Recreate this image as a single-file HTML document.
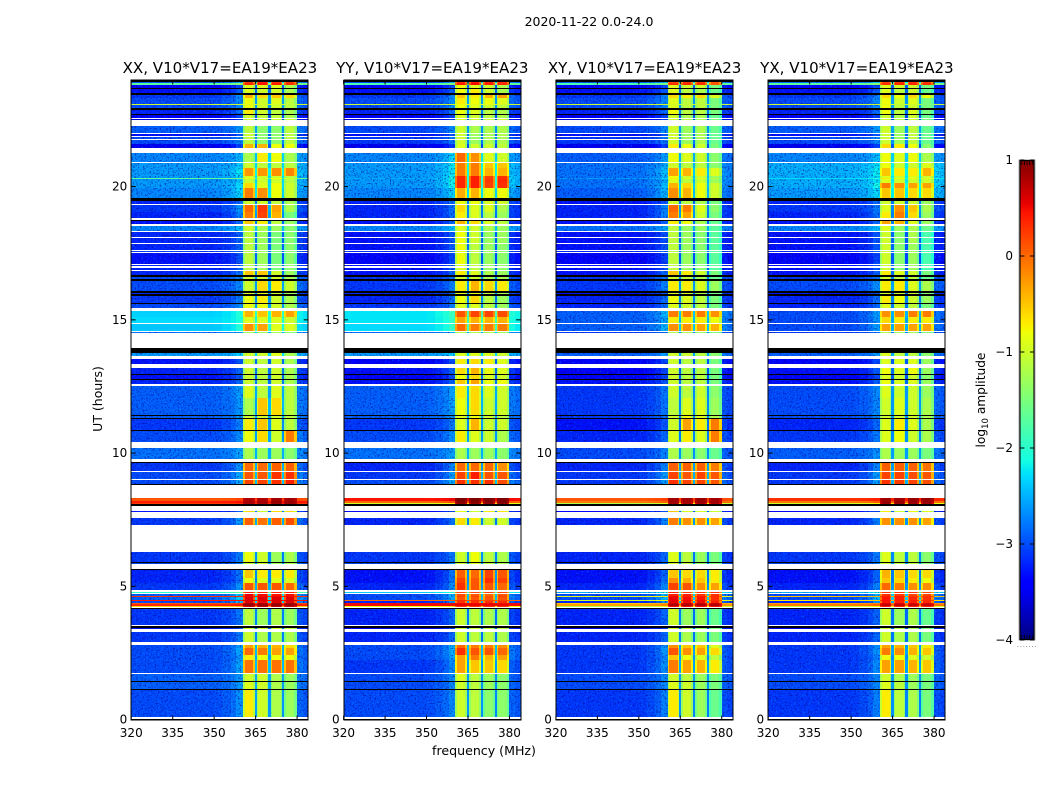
<!DOCTYPE html>
<html lang="en">
<head>
<meta charset="utf-8">
<title>2020-11-22 0.0-24.0</title>
<style>
html,body{margin:0;padding:0;background:#fff;}
body{width:1050px;height:800px;overflow:hidden;}
svg{display:block;}
text{font-family:"DejaVu Sans","Liberation Sans",sans-serif;fill:#000;}
</style>
</head>
<body>
<svg id="chart" xmlns="http://www.w3.org/2000/svg" width="1050" height="800" viewBox="0 0 1050 800">
<defs>
<filter id="noise-light" filterUnits="userSpaceOnUse" x="0" y="0" width="1050" height="800" color-interpolation-filters="sRGB">
<feTurbulence type="fractalNoise" baseFrequency="0.55" numOctaves="2" seed="4" result="n"/>
<feColorMatrix in="n" type="matrix" values="0 0 0 0 0  0 0 0 0 .72  0 0 0 0 1  5 0 0 0 -3" result="c"/>
<feComposite in="c" in2="SourceAlpha" operator="in"/>
</filter>
<filter id="noise-dark" filterUnits="userSpaceOnUse" x="0" y="0" width="1050" height="800" color-interpolation-filters="sRGB">
<feTurbulence type="fractalNoise" baseFrequency="0.6" numOctaves="2" seed="11" result="n"/>
<feColorMatrix in="n" type="matrix" values="0 0 0 0 0  0 0 0 0 0  0 0 0 0 .55  0 5 0 0 -2.6" result="c"/>
<feComposite in="c" in2="SourceAlpha" operator="in"/>
</filter>
<linearGradient id="jet-gradient" x1="0" y1="1" x2="0" y2="0"></linearGradient>
</defs>
</svg>
<script>
const K='k',W=null;
const panelTitles=['XX, V10*V17=EA19*EA23','YY, V10*V17=EA19*EA23','XY, V10*V17=EA19*EA23','YX, V10*V17=EA19*EA23'];
const freqTicks=[320,335,350,365,380];
const hourTicks=[0,5,10,15,20];
const colorbarTicks=[1,0,-1,-2,-3,-4];
const freqEdges=[320,335,345,350,353,356,358,360.4,361,364,364.6,365.4,366,369,369.6,370.4,371,374,374.6,375.4,376,379,380,382,384];
const channelBand=[-1,-1,-1,0,0,0,0,0,0,0,0,1,1,1,1,2,2,2,2,3,3,3,3,3];
const channelMix=[0,0,0,.01,.04,.08,.15,.85,1,.85,.18,.85,1,.85,.18,.85,1,.85,.18,.85,1,.85,.08,.04];
const rowTops=[
24.00,23.92,23.88,23.83,23.71,23.66,23.51,23.45,23.32,23.11,
23.07,22.96,22.89,22.72,22.68,22.57,22.53,22.51,22.28,22.01,
21.97,21.90,21.86,21.78,21.75,21.60,21.46,21.26,20.92,20.88,
20.69,20.39,20.33,20.29,20.13,19.94,19.59,19.46,19.34,19.31,
19.05,18.82,18.76,18.70,18.59,18.54,18.33,18.29,18.11,18.07,
17.88,17.84,17.62,17.58,17.54,17.49,17.11,17.07,17.02,16.96,
16.87,16.83,16.68,16.60,16.53,16.45,16.08,16.02,15.97,15.91,
15.65,15.63,15.44,15.33,15.09,14.90,14.87,14.84,14.58,14.54,
14.50,13.94,13.75,13.64,13.53,13.34,13.28,13.25,13.21,12.98,
12.96,12.78,12.74,12.59,12.51,12.06,11.44,11.43,11.31,11.29,
10.88,10.86,10.41,10.19,9.77,9.66,9.61,9.32,9.29,9.04,
9.01,8.84,8.80,8.31,8.21,8.13,8.09,8.03,7.82,7.79,7.56,7.30,
6.29,5.91,5.87,5.84,5.65,5.61,5.30,5.11,4.86,4.80,
4.75,4.71,4.63,4.59,4.48,4.45,4.39,4.33,4.26,4.22,
4.18,4.15,3.55,3.51,3.43,3.40,3.28,2.91,2.81,2.68,
2.42,2.23,1.74,1.71,1.44,1.41,1.14,1.11,0.10,0.02];
/* each data row: log10 amplitude [quiet band, sub-band A, B, C, D]; W = flagged, K = zero */
const xxRows=[
K,[-2.9,.3,.4,.3,.3],[-1.7,.35,.45,.4,.3],[-3.4,-.9,-.9,-.9,-1.2],K,[-3.3,-.9,-1,-1,-1.2],K,[-3.1,-.4,-.6,-.5,-.6],[-3,-.8,-1,-.9,-1.1],[-1,-.9,-1,-1,-1.1],
[-3,-.8,-1,-1,-1.1],K,[-3.2,-.7,-1,-1.1,-1.2],K,[-3.4,-1,-1.1,-1.1,-1.2],W,[-3.5,-1,-1,-1,-1],W,[-2.9,-1.1,-1.4,-1.4,-1.1],W,
[-3.3,-1,-1.4,-1.4,-1.1],W,[-3,-1.1,-1.4,-1.4,-1.1],W,[-3,-1.1,-1.4,-1.4,-1.1],[-3.5,-.4,-.4,-.8,-.8],W,[-2.7,-1.2,-.7,-.8,-1.2],W,[-2.6,-1,-1.1,-1.1,-1.1],
[-2.6,-.25,-.25,-.2,-.15],[-2.6,-.9,-1,-1,-1.1],[-1.7,-.9,-1,-.8,-1],[-2.6,-1,-1,-1,-1.1],[-2.6,-.6,-.9,-.8,-1],[-2.7,-.1,-.2,-.8,-1],K,[-3.2,-1,-1,-1.1,-1.2],W,[-3.1,0,.25,-.3,-1.2],
[-3.2,-.1,.2,-.4,-1.5],W,K,[-3.3,-.5,-.7,-1.1,-1.3],W,[-2.7,-1,-1.2,-1.3,-1.4],W,[-3.2,-1.1,-1.3,-1.5,-1.4],W,[-3.2,-1.1,-1.3,-1.5,-1.4],
W,[-3.2,-1.1,-1.3,-1.5,-1.4],W,[-3.1,-1.1,-1.3,-1.5,-1.4],W,[-3.3,-1.1,-1.3,-1.5,-1.4],W,[-3.2,-1.1,-1.3,-1.5,-1.4],W,[-3.2,-1.1,-1.3,-1.5,-1.4],
W,[-3.2,-.5,-.5,-1,-1.3],K,[-3,-1,-1,-1,-1.2],K,[-3,-1,-.6,-.7,-1],K,[-3.2,-.9,-.8,-1,-1.2],K,[-3.1,-.8,-.7,-1,-1.2],
K,[-3,-.8,-.8,-1,-1.2],W,[-2.35,-.4,-.5,-.4,-.3],[-2.3,-.9,-.9,-.9,-1],[-1.4,-1,-1,-1,-1.1],W,[-2.4,-.2,-.3,-.9,-.9],W,[-2.8,-1.3,-1.3,-1.3,-1.4],
W,K,[-2.6,-1,-1,-.9,-1.2],W,[-3.3,-1,-1.1,-1,-1.2],W,[-3.3,-1,-1.1,-1,-1.2],W,[-3.2,-1,-1.1,-1,-1.2],K,
[-3.3,-1,-1.1,-1,-1.2],K,[-3.2,-1,-1.1,-1,-1.2],W,[-2.9,-.9,-1.1,-.9,-1.1],[-2.9,-1.2,-.5,-.6,-1.1],K,[-2.9,-1,-1,-1,-1.1],K,[-3.1,-.7,-.5,-.9,-1.1],
K,[-3,-.8,-.6,-1,-.1],W,[-2.8,-1.2,-1.3,-1.3,-1.4],W,K,[-3.1,0,0,.05,.05],W,[-3,.1,.1,.3,.3],W,
[-3,.2,.2,.3,.4],K,W,[.1,.8,.8,.85,.85],[.4,.85,.85,.9,.9],[.25,.8,.8,.85,.85],K,W,[-3.3,-.6,-1,-.6,-.6],W,[-3.1,.05,-.05,.05,.15],W,
[-3.1,-.8,-1,-1.3,-1.2],K,[-3,-1,-1,-1.3,-1.2],W,K,[-3.2,-.5,-.7,-.7,-.7],[-3.2,-.8,-.9,-.9,-.9],[-3.1,.1,.1,.1,0],W,[-2,.4,.4,.4,.4],
W,[-2.9,.55,.5,.45,.5],[.3,.5,.5,.5,.5],[-2.9,.6,.6,.6,.6],[.4,.6,.6,.6,.6],[-3,.6,.5,.6,.6],[.1,.8,.8,.8,.8],[.35,.9,.9,.9,.9],[-.6,.7,.7,.7,.7],W,
K,[-3.1,-1.1,-1.3,-1.2,-1.3],W,K,[-3.3,-1,-1,-1,-1],W,[-3.1,-1,-1.2,-1.2,-1.2],W,[-3,-.3,-.4,-.4,-.6],[-3,0,-.1,-.3,-.3],
[-3,-.7,-.8,-.8,-.8],[-3,-.05,-.05,-.05,-.05],W,[-2.9,-1,-1,-1.2,-1.3],K,[-2.9,-.9,-1,-1.2,-1.3],K,[-3,-.7,-1,-1.2,-1.3],W,K];
const yyRows=[
K,[-3,.35,.45,.4,.3],[-1.8,.4,.5,.4,.35],[-3.4,-.8,-.9,-1,-1.2],K,[-3.3,-.8,-.7,-1,-1.2],K,[-3.1,-.5,-.7,-.4,-.3],[-3,-.7,-.8,-.8,-.9],[-1,-.8,-.9,-.9,-1],
[-3,-.8,-.9,-1,-1.1],K,[-3.2,-.8,-.9,-1.1,-1.2],K,[-3.4,-.9,-1,-1.1,-1.2],W,[-3.5,-.9,-1,-1,-1],W,[-3,-1,-1.2,-1.2,-1.2],W,
[-3.3,-1,-1.3,-1.2,-1.2],W,[-3.1,-1,-1.3,-1.2,-1.2],W,[-3.1,-1,-1.3,-1.2,-1.2],[-3.5,-.9,-1,-1,-1.1],W,[-2.7,0,-.2,-.9,-1],W,[-2.6,-.1,-.1,-.5,-.5],
[-2.6,-.1,-.1,-.4,-.4],[-2.6,.35,.4,.2,.3],[-2.5,.35,.4,.2,.3],[-2.6,.35,.4,.25,.35],[-2.6,.35,.4,.2,.3],[-2.7,-.35,-.4,-.8,-.8],K,[-3.2,-.8,-.8,-.9,-1],W,[-3.2,-.6,-.9,-.9,-1.2],
[-3.2,-.7,-.9,-1.1,-1.3],W,K,[-3.3,-.4,-.6,-.9,-1.1],W,[-2.7,-.9,-1,-1.2,-1.3],W,[-3.3,-.8,-1,-1.3,-1.3],W,[-3.3,-.8,-1,-1.3,-1.3],
W,[-3.3,-.8,-1.1,-1.3,-1.4],W,[-3.2,-.8,-1.1,-1.3,-1.4],W,[-3.4,-.8,-1.1,-1.3,-1.4],W,[-3.3,-.9,-1.1,-1.3,-1.4],W,[-3.3,-.9,-1.1,-1.3,-1.4],
W,[-3.3,-.7,-.9,-1.2,-1.3],K,[-3.1,-1,-1,-1.2,-1.2],K,[-3.1,-.7,-.4,-.6,-.7],K,[-3.2,-.8,-.8,-1,-1.2],K,[-3.2,-.8,-.6,-1.1,-1.3],
K,[-3.1,-.9,-.9,-1.1,-1.3],W,[-2.25,.1,.2,.2,.15],[-2.25,-.3,-.4,-.4,-.4],[-1.4,-.2,-.3,-.3,-.4],W,[-2.3,0,-.1,-.1,-.1],W,[-2.8,-1.2,-1.2,-1.2,-1.3],
W,K,[-2.6,-.9,-.9,-.9,-1],W,[-3.4,-.7,-.6,-.7,-.9],W,[-3.4,-.8,-.7,-.8,-1],W,[-3.3,-.6,-.4,-.8,-.9],K,
[-3.4,-.8,-.6,-.9,-1],K,[-3.3,-.5,-.3,-.8,-.8],W,[-2.9,-.7,-.6,-.9,-1],[-2.9,-.8,-.6,-1,-1],K,[-2.9,-.9,-.8,-1,-1.1],K,[-3.1,-.9,-.4,-1,-1],
K,[-3,-.7,-.9,-1,-1.2],W,[-2.8,-1.2,-1.3,-1.3,-1.4],W,K,[-3.2,0,0,0,-.2],W,[-3.1,.2,.4,.1,.1],W,
[-3,.3,.3,.3,.15],K,W,[.45,1,1,1,1],[0,1,1,1,1],[-1,.9,.9,.9,.9],K,W,[-3.4,-.8,-1,-.7,-.7],W,[-3.2,-.6,-.7,-1,-1],W,
[-3.1,-1,-.8,-1.1,-1.2],K,[-3,-1,-.9,-1.1,-1.2],W,K,[-3.3,.05,0,.2,.1],[-3.3,.2,.1,.3,.2],[-3.2,.3,.1,.1,0],W,[-2.4,.2,.2,.2,.2],
W,[-3,.15,.1,0,.1],[-3,.2,.2,.1,.2],[-3,.1,.1,.1,.1],[0,.3,.3,.2,.2],[-3.2,.3,.3,.3,.3],[.5,.5,.5,.5,.5],[.5,.55,.55,.55,.55],[-.8,.3,.3,.3,.3],W,
K,[-3.2,-1,-1.1,-1.2,-1.2],W,K,[-3.4,-1,-1,-1.1,-1.1],W,[-3.2,-1,-1.1,-1.1,-1.2],W,[-3,.0,-.1,-.1,-.2],[-3,.3,.1,.1,0],
[-3,-.3,-.1,-.4,-.3],[-3.1,-.3,-.5,-.5,-.6],W,[-3,-.9,-1.1,-1.3,-1.4],K,[-3,-1,-1.1,-1.3,-1.4],K,[-3,-1,-1.1,-1.4,-1.4],W,K];
const xyRows=[
K,[-2.9,.2,.3,.3,.1],[-1.8,.3,.35,.3,.1],[-3.4,-.9,-1,-1,-1.5],K,[-3.3,-.9,-1.1,-1.2,-1.6],K,[-3.1,-.6,-.7,-.6,-.9],[-3,-.9,-1.1,-1.1,-1.5],[-1,-1,-1.1,-1.1,-1.5],
[-3,-.9,-1.1,-1.1,-1.5],K,[-3.2,-.8,-1.1,-1.1,-1.5],K,[-3.4,-1,-1.2,-1.2,-1.6],W,[-3.5,-1,-1.1,-1.2,-1.5],W,[-3,-1,-1.3,-1.2,-1.6],W,
[-3.3,-1,-1.3,-1.2,-1.6],W,[-3.1,-1,-1.3,-1.2,-1.6],W,[-3.1,-1,-1.3,-1.2,-1.6],[-3.5,-.7,-.8,-1,-1.5],W,[-2.9,-.8,-.9,-1,-1.4],W,[-2.8,-1,-1.1,-1.1,-1.4],
[-2.8,-.3,-.4,-.7,-.9],[-2.8,-.8,-1,-1,-1.3],[-2.6,-.7,-.9,-.9,-1.2],[-2.8,-.9,-1.1,-1,-1.3],[-2.8,-.4,-.6,-.8,-1],[-2.9,-.2,-.4,-.8,-1],K,[-3.3,-1,-1.1,-1.2,-1.5],W,[-3.2,0,-.1,-.9,-1.4],
[-3.2,-.1,-.3,-1,-1.5],W,K,[-3.3,-.7,-.8,-1.2,-1.6],W,[-2.8,-1.1,-1.3,-1.3,-1.7],W,[-3.3,-1.1,-1.3,-1.4,-1.7],W,[-3.3,-1.1,-1.3,-1.4,-1.7],
W,[-3.3,-1.1,-1.3,-1.4,-1.7],W,[-3.2,-1.1,-1.3,-1.4,-1.7],W,[-3.4,-1.1,-1.3,-1.4,-1.7],W,[-3.3,-1.1,-1.3,-1.4,-1.7],W,[-3.3,-1.1,-1.3,-1.4,-1.7],
W,[-3.3,-.5,-.7,-1,-1.5],K,[-3.1,-1,-1.1,-1.2,-1.6],K,[-3.1,-.7,-.7,-.9,-1.3],K,[-3.3,-.9,-.9,-1.1,-1.5],K,[-3.2,-.8,-.9,-1.1,-1.5],
K,[-3.2,-.9,-1,-1.1,-1.5],W,[-2.9,-.1,-.1,-.1,-.2],[-2.9,-.7,-.7,-.7,-.8],[-2.4,-.6,-.6,-.6,-.8],W,[-2.9,-.2,-.2,-.3,-.4],W,[-3.1,-1.2,-1.2,-1.3,-1.5],
W,K,[-2.9,-1,-1,-1.1,-1.4],W,[-3.4,-1,-1.1,-1.1,-1.5],W,[-3.4,-1,-1.1,-1.1,-1.5],W,[-3.4,-1,-1.1,-1.1,-1.5],K,
[-3.4,-1,-1.1,-1.1,-1.5],K,[-3.3,-1,-1.1,-1.1,-1.5],W,[-3.1,-1,-1.1,-1,-1.4],[-3.1,-1.1,-.9,-.9,-1.3],K,[-3.1,-1,-.8,-.9,-1.2],K,[-3.3,-1,-.3,-.7,-.1],
K,[-3.2,-.9,-.7,-.9,-.1],W,[-3,-1.2,-1.3,-1.4,-1.6],W,K,[-3.2,.05,.05,.05,-.1],W,[-3.1,.2,.1,.2,.1],W,
[-3.1,.3,.2,.2,.1],K,W,[.1,.85,.85,.9,.85],[-.1,.85,.85,.9,.85],[-1.2,.8,.8,.8,.8],K,W,[-3.4,-.5,-.9,-.9,-1],W,[-3.2,-.1,-.2,-.2,-.3],W,
[-3.2,-.9,-1.1,-1.3,-1.5],K,[-3.1,-1,-1.1,-1.3,-1.5],W,K,[-3.3,-.5,-.6,-.6,-.7],[-3.3,-.2,-.4,-.5,-.7],[-3.2,.2,.1,-.2,-.3],W,[-2.5,.4,.3,.3,.3],
W,[-3,.4,.4,.3,.3],[-.9,.5,.4,.4,.3],[-3,.55,.5,.45,.3],[-1,.55,.5,.5,.3],[-3.2,.55,.5,.5,.4],[-.5,.7,.7,.7,.7],[-.3,.8,.8,.8,.8],[-1.1,.5,.5,.5,.5],W,
K,[-3.2,-1,-1.3,-1.3,-1.6],W,K,[-3.4,-1,-1.1,-1.3,-1.5],W,[-3.2,-1,-1.2,-1.3,-1.5],W,[-3.1,-.2,-.5,-.5,-.9],[-3.1,.1,-.2,-.3,-.6],
[-3.1,-.5,-.8,-.9,-1.1],[-3.1,-.1,-.3,-.4,-.7],W,[-3,-1,-1.1,-1.3,-1.5],K,[-3,-.9,-1,-1.3,-1.5],K,[-3.1,-.7,-1,-1.3,-1.6],W,K];
const yxRows=[
K,[-2.8,.25,.3,.3,.25],[-1.7,.3,.35,.35,.3],[-3.4,-.9,-1,-1,-1.5],K,[-3.3,-.9,-1.1,-1,-1.6],K,[-3.1,-.6,-.8,-.6,-.8],[-3,-.8,-1,-.9,-1.5],[-1,-.9,-1.1,-1,-1.5],
[-3,-.8,-1.1,-1,-1.5],K,[-3.2,-.8,-1.1,-.9,-1.5],K,[-3.4,-1,-1.2,-1,-1.6],W,[-3.5,-1,-1.1,-1,-1.5],W,[-2.9,-1,-1.3,-1.1,-1.6],W,
[-3.3,-1,-1.3,-1.1,-1.6],W,[-3,-1,-1.3,-1.1,-1.6],W,[-3,-1,-1.3,-1.1,-1.6],[-3.5,-.6,-.7,-.8,-1.4],W,[-2.7,-.8,-.9,-.8,-1.2],W,[-2.5,-.8,-1,-1,-.9],
[-2.5,-.5,-.7,-.7,-.4],[-2.5,-.9,-1,-.9,-1],[-2.3,-.7,-.8,-.8,-.9],[-2.5,-.9,-1,-1,-1],[-2.5,-.1,-.2,-.3,-.3],[-2.6,-.5,-.5,-.6,-.6],K,[-3.2,-1,-1,-1,-1.3],W,[-3.1,-.9,-.2,-.5,-1.2],
[-3.2,-.7,-.1,-.6,-1.3],W,K,[-3.3,-.3,-.4,-.9,-1.3],W,[-2.7,-.9,-1.3,-1.2,-1.6],W,[-3.3,-1,-1.4,-1.2,-1.8],W,[-3.3,-1,-1.4,-1.2,-1.8],
W,[-3.3,-1,-1.4,-1.3,-1.8],W,[-3.2,-1,-1.4,-1.3,-1.8],W,[-3.4,-1,-1.4,-1.3,-1.8],W,[-3.3,-1,-1.4,-1.3,-1.8],W,[-3.3,-1,-1.4,-1.3,-1.8],
W,[-3.3,-.7,-.9,-1,-1.5],K,[-3.1,-1,-1.1,-1.1,-1.6],K,[-3,-.7,-.7,-.9,-1.2],K,[-3.3,-.9,-1,-1,-1.4],K,[-3.2,-.7,-.8,-1,-1.3],
K,[-3.2,-.9,-1,-1.1,-1.5],W,[-3,-.2,-.2,-.1,-.1],[-3,-.6,-.7,-.7,-.7],[-1.8,-.5,-.6,-.6,-.7],W,[-3,-.3,-.3,-.3,-.3],W,[-3.1,-1.2,-1.3,-1.3,-1.5],
W,K,[-2.9,-.9,-1.1,-1.1,-1.4],W,[-3.4,-.9,-.9,-.9,-1.3],W,[-3.4,-.9,-1,-.9,-1.3],W,[-3.3,-.8,-.9,-.8,-1.3],K,
[-3.4,-.9,-1,-1,-1.4],K,[-3.3,-.8,-.9,-.9,-1.3],W,[-3,-.9,-1,-1,-1.3],[-3,-1,-.9,-1,-1.2],K,[-3,-1,-1,-1,-1.2],K,[-3.2,-.9,-.7,-.9,-1.2],
K,[-3.1,-.9,-.8,-1,-1.2],W,[-2.9,-1.2,-1.3,-1.3,-1.5],W,K,[-3.2,.05,.05,.05,-.05],W,[-3.1,.2,.2,.15,.1],W,
[-3.1,.3,.25,.2,.15],K,W,[.3,.85,.85,.9,.9],[-.1,.9,.9,.9,.9],[-1,.85,.85,.85,.85],K,W,[-3.4,-.7,-1,-.8,-.9],W,[-3.2,-.2,-.2,-.2,-.3],W,
[-3.1,-.9,-1.1,-1.1,-1.4],K,[-3,-1,-1.1,-1.1,-1.4],W,K,[-3.3,-.4,-.5,-.6,-.6],[-3.3,-.5,-.6,-.7,-.8],[-3.2,0,-.1,-.2,-.2],W,[-2.5,.3,.3,.3,.2],
W,[-3,.3,.25,.2,.2],[-.5,.4,.4,.3,.3],[-3,.45,.4,.35,.3],[-.7,.45,.4,.4,.35],[-3.2,.45,.4,.4,.35],[-.3,.6,.6,.6,.6],[-.1,.7,.7,.7,.7],[-1,.4,.4,.4,.4],W,
K,[-3.2,-1,-1.3,-1.2,-1.6],W,K,[-3.4,-1,-1.1,-1.2,-1.5],W,[-3.2,-1,-1.2,-1.2,-1.5],W,[-3.1,-.3,-.4,-.5,-.7],[-3.1,-.1,-.2,-.4,-.5],
[-3.1,-.8,-.8,-.9,-1],[-3.1,-.3,-.3,-.4,-.5],W,[-3,-1,-1.2,-1.3,-1.5],K,[-3,-.9,-1.1,-1.3,-1.5],K,[-3.1,-.7,-1.1,-1.2,-1.5],W,K];
const panelRows=[xxRows,yyRows,xyRows,yxRows];

const SVGNS='http://www.w3.org/2000/svg';
const svg=document.getElementById('chart');
function el(tag,attrs,parent){
  const e=document.createElementNS(SVGNS,tag);
  for(const k in attrs)e.setAttribute(k,attrs[k]);
  (parent||svg).appendChild(e);
  return e;
}
function interp(points,t){
  if(t<=points[0][0])return points[0][1];
  for(let i=1;i<points.length;i++){
    if(t<=points[i][0]){
      const a=points[i-1],b=points[i];
      return a[1]+(b[1]-a[1])*(t-a[0])/(b[0]-a[0]);
    }
  }
  return points[points.length-1][1];
}
const jetR=[[0,0],[.35,0],[.66,1],[.89,1],[1,.5]];
const jetG=[[0,0],[.125,0],[.375,1],[.64,1],[.91,0],[1,0]];
const jetB=[[0,.5],[.11,1],[.34,1],[.65,0],[1,0]];
function jet(t){
  const c=p=>Math.round(255*interp(p,t));
  return 'rgb('+c(jetR)+','+c(jetG)+','+c(jetB)+')';
}
function amplitudeColor(v){
  return jet(Math.min(1,Math.max(0,(v+4)/5)));
}
function yScale(h){return 719.6-h*26.65;}
function xScale(left,f){return left+(f-320)*176.9/64;}

const grad=document.getElementById('jet-gradient');
[0,.11,.125,.34,.35,.375,.5,.64,.65,.66,.89,.91,1].forEach(function(o){
  el('stop',{offset:o,'stop-color':jet(o)},grad);
});

const title=el('text',{x:589,y:26,'text-anchor':'middle','font-size':'12.5'});


title.textContent='2020-11-22 0.0-24.0';

const panelLefts=[131.25,343.6,555.9,768.2];
panelRows.forEach(function(rows,p){
  const left=panelLefts[p];
  const g=el('g',{});
  
  
  const cells=el('g',{'shape-rendering':'crispEdges'},g);
  
  
  const lightNoise=el('g',{filter:'url(#noise-light)',opacity:'.38','shape-rendering':'crispEdges'},g);
  
  
  const darkNoise=el('g',{filter:'url(#noise-dark)',opacity:'.55','shape-rendering':'crispEdges'},g);
  
  
  const flags=el('g',{'shape-rendering':'crispEdges'},g);
  
  
  const xL=Math.round(left),xR=Math.round(xScale(left,384));
  rows.forEach(function(row,i){
    const y0=Math.round(yScale(rowTops[i]));
    const y1=Math.round(yScale(i+1<rowTops.length?rowTops[i+1]:0));
    const h=Math.max(1,y1-y0);
    if(row===W||row===K){
      const r=el('rect',{x:xL,y:y0,width:xR-xL,height:h,fill:row===K?'#000':'#fff'},flags);
      
      
      return;
    }
    const q=row[0];
    channelBand.forEach(function(b,c){
      const v=b<0?q:q+channelMix[c]*(row[b+1]-q);
      const x0=Math.round(xScale(left,freqEdges[c]));
      const x1=Math.round(xScale(left,freqEdges[c+1]));
      if(x1<=x0)return;
      const r=el('rect',{x:x0,y:y0,width:x1-x0,height:h,fill:amplitudeColor(v)},cells);
      
      
    });
    if(q<-2.4){
      [lightNoise,darkNoise].forEach(function(layer){
        el('rect',{x:xL,y:y0,width:Math.round(xScale(left,360.4))-xL,height:h,fill:'#000'},layer);
        el('rect',{x:Math.round(xScale(left,380)),y:y0,width:xR-Math.round(xScale(left,380)),height:h,fill:'#000'},layer);
      });
    }
  });
  const frame=el('rect',{x:Math.round(left),y:80,width:177,height:640,fill:'none',stroke:'#000','stroke-width':1},g);
  
  
  freqTicks.forEach(function(f){
    const x=xScale(left,f);
    [[720,715.6],[80,84.4]].forEach(function(s){
      const t=el('line',{x1:x,x2:x,y1:s[0],y2:s[1],stroke:'#000','stroke-width':1},g);
      
      
    });
    const l=el('text',{x:x,y:737,'text-anchor':'middle','font-size':'12'},g);
    
    
    l.textContent=String(f);
  });
  hourTicks.forEach(function(h){
    const y=yScale(h);
    [[left,left+4.4],[left+176.9,left+172.5]].forEach(function(s){
      const t=el('line',{x1:s[0],x2:s[1],y1:y,y2:y,stroke:'#000','stroke-width':1},g);
      
      
    });
    const l=el('text',{x:left-4,y:y+4,'text-anchor':'end','font-size':'12'},g);
    
    
    l.textContent=String(h);
  });
  const pt=el('text',{x:left+88.7,y:73,'text-anchor':'middle','font-size':'15.05'},g);
  
  
  pt.textContent=panelTitles[p];
});

const yLabel=el('text',{x:102,y:399,'text-anchor':'middle','font-size':'12.5',transform:'rotate(-90 102 399)'});


yLabel.textContent='UT (hours)';
const xLabel=el('text',{x:484,y:755,'text-anchor':'middle','font-size':'12.6'});


xLabel.textContent='frequency (MHz)';

const cbar=el('g',{});


const cbarRect=el('rect',{x:1019,y:160,width:16,height:480,fill:'url(#jet-gradient)',stroke:'#aaa','stroke-width':1},cbar);


el('rect',{x:1020,y:160.5,width:14,height:479,fill:'none',stroke:'#000','stroke-width':1.1},cbar);
function cbarY(v){return 640-(v+4)*96;}
colorbarTicks.forEach(function(v){
  const y=cbarY(v);
  el('line',{x1:1020,x2:1024.4,y1:y,y2:y,stroke:'#000'},cbar);
  el('line',{x1:1030,x2:1034.4,y1:y,y2:y,stroke:'#000'},cbar);
  const l=el('text',{x:1013,y:y+4,'text-anchor':'end','font-size':'12'},cbar);
  
  
  l.textContent=(v<0?'\u2212':'')+Math.abs(v);
});
for(let i=1;i<=5;i++){
  const x=1019+i*16/6;
  el('line',{x1:x,x2:x,y1:161,y2:165,stroke:'#000','stroke-width':.8},cbar);
  el('line',{x1:x,x2:x,y1:635,y2:639,stroke:'#000','stroke-width':.8},cbar);
}
for(let i=0;i<7;i++){
  el('rect',{x:1017.5+i*2.9,y:646,width:1,height:1,fill:'#999'},cbar);
}
const cbLabel=el('text',{x:985,y:400,'text-anchor':'middle','font-size':'12.2',transform:'rotate(-90 985 400)'},cbar);


const s1=el('tspan',{},cbLabel);s1.textContent='log';
const s2=el('tspan',{dy:3,'font-size':'8.5'},cbLabel);s2.textContent='10';
const s3=el('tspan',{dy:-3},cbLabel);s3.textContent=' amplitude';
</script>
</body>
</html>
